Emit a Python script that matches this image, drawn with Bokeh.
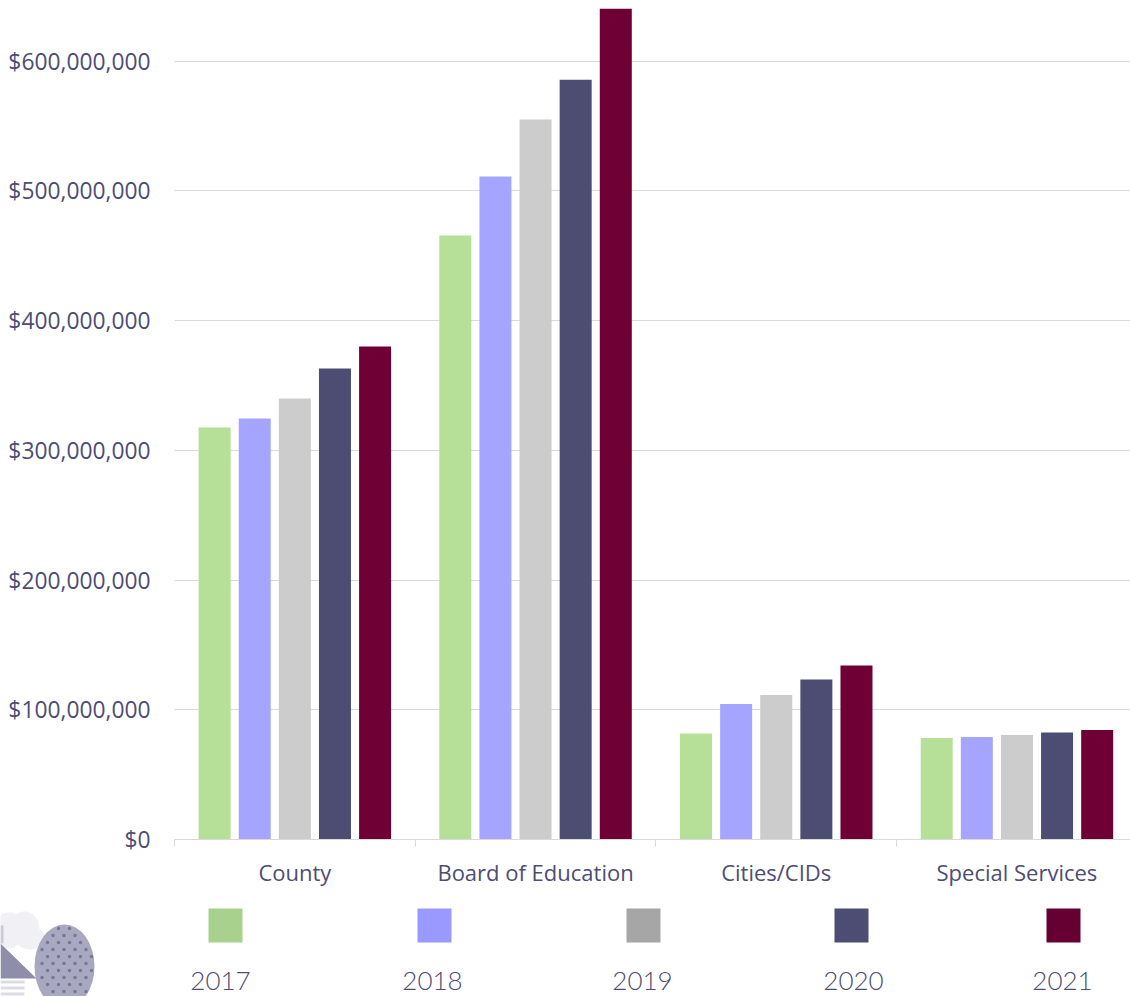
from bokeh.plotting import figure
from bokeh.layouts import column, row
from bokeh.models import Range1d, FixedTicker
from bokeh.core.properties import value
from bokeh.embed import file_html
from bokeh.resources import INLINE

categories = ["County", "Board of Education", "Cities/CIDs", "Special Services"]
years = ["2017", "2018", "2019", "2020", "2021"]
v2017 = [317500000, 465500000, 81700000, 78200000]
v2018 = [324500000, 511000000, 104400000, 79000000]
v2019 = [340000000, 555000000, 111400000, 80500000]
v2020 = [363000000, 585500000, 123300000, 82400000]
v2021 = [380000000, 645000000, 134100000, 84400000]
series = [v2017, v2018, v2019, v2020, v2021]
bar_colors = ["#B6DF98", "#A5A5FF", "#CCCCCC", "#4D4D73", "#6E0036"]
swatch_colors = ["#A9D18E", "#9999FF", "#A6A6A6", "#4D4D73", "#660033"]
y_ticks = [0, 100000000, 200000000, 300000000, 400000000, 500000000, 600000000]
TEXT = "#4D4D73"
LINE = "#D9D9D9"

p = figure(width=1130, height=895, output_backend="svg", toolbar_location=None,
           x_range=Range1d(0, 956 / 240.7), y_range=Range1d(0, 640500000),
           min_border_left=174, min_border_right=0, min_border_top=8, min_border_bottom=56,
           outline_line_color=None, background_fill_color="white", border_fill_color="white")

for i, vals in enumerate(series):
    xs = [c + (i + 1) / 6 for c in range(len(categories))]
    p.vbar(x=xs, top=vals, bottom=0, width=0.133, color=bar_colors[i], line_color=None)

p.xgrid.visible = False
p.ygrid.grid_line_color = LINE
p.ygrid.grid_line_width = 1
p.ygrid.ticker = FixedTicker(ticks=y_ticks[1:])

p.yaxis.ticker = FixedTicker(ticks=y_ticks)
p.yaxis.major_label_overrides = {t: "${:,}".format(t) for t in y_ticks}
p.yaxis.axis_line_color = None
p.yaxis.major_tick_line_color = None
p.yaxis.minor_tick_line_color = None
p.yaxis.major_tick_in = 0
p.yaxis.major_tick_out = 0
p.yaxis.major_label_standoff = 24
p.yaxis.major_label_text_font = "Open Sans"
p.yaxis.major_label_text_font_size = "22.8px"
p.yaxis.major_label_text_color = TEXT

centers = [c + 0.5 for c in range(len(categories))]
p.xaxis.ticker = FixedTicker(ticks=centers, minor_ticks=list(range(len(categories))))
p.xaxis.major_label_overrides = dict(zip(centers, categories))
p.xaxis.axis_line_color = LINE
p.xaxis.major_tick_line_color = None
p.xaxis.major_tick_in = 0
p.xaxis.major_tick_out = 0
p.xaxis.minor_tick_line_color = LINE
p.xaxis.minor_tick_in = 0
p.xaxis.minor_tick_out = 7
p.xaxis.major_label_standoff = 10
p.xaxis.major_label_text_font = "Open Sans"
p.xaxis.major_label_text_font_size = "22px"
p.xaxis.major_label_text_color = TEXT

# legend strip: data units equal page pixels
leg = figure(width=1130, height=101, output_backend="svg", toolbar_location=None,
             x_range=Range1d(0, 1130), y_range=Range1d(996, 895),
             min_border=0, outline_line_color=None, border_fill_color="white")
leg.axis.visible = False
leg.grid.visible = False

# decorative house and tree
leg.ellipse(x=[8, 24, 30], y=[930, 928, 938], width=[30, 30, 30], height=[36, 34, 22], color="#F1F1F5", line_color=None)
leg.quad(left=0, right=3, top=925, bottom=943, color="#C9C9D8", line_color=None)
leg.patch(x=[0, 0, 36], y=[943, 978, 978], color="#8E8EAB", line_color=None)
leg.quad(left=[0, 0, 0], right=[24, 24, 24], top=[980, 986, 992], bottom=[983, 989, 995], color="#DCDCE6", line_color=None)
leg.ellipse(x=[64], y=[966], width=[60], height=[84], color="#A8A8C0", line_color=None)
dots = [(36 + 11 * c + (5.5 if r % 2 else 0), 928 + 7 * r) for r in range(11) for c in range(6)]
dots = [d for d in dots if ((d[0] - 64) / 28) ** 2 + ((d[1] - 966) / 40) ** 2 < 1]
leg.scatter(x=[d[0] for d in dots], y=[d[1] for d in dots], size=3.5, color="#77779A", line_color=None)

swatch_x = [225, 434, 643, 851, 1063]
label_x = [220, 432, 642, 853, 1062]
leg.rect(x=swatch_x, y=[925] * 5, width=34, height=34, color=swatch_colors, line_color=None)
leg.text(x=label_x, y=[980.5] * 5, text=years, text_align="center", text_baseline="middle",
         text_font=value("Lato Light"), text_font_size="26px", text_color=TEXT)

page = column(p, row(leg), spacing=0)
open("out.html", "w").write(file_html(page, INLINE))
